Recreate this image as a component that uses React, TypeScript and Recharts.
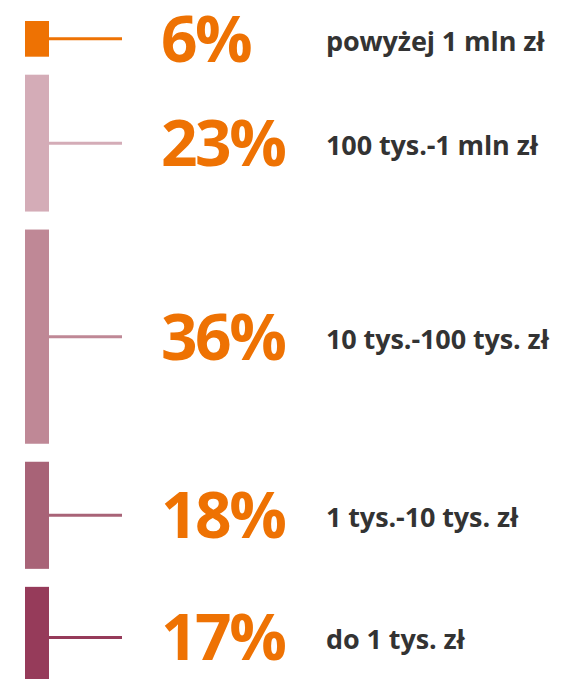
import { BarChart, Bar, XAxis, YAxis } from "recharts";

// top to bottom, as in the picture
const categories = [
  "powyżej 1 mln zł",
  "100 tys.-1 mln zł",
  "10 tys.-100 tys. zł",
  "1 tys.-10 tys. zł",
  "do 1 tys. zł",
];
const shares = [6, 23, 36, 18, 17];
const colors = ["#EE7203", "#D4ACB7", "#BF8896", "#A86377", "#963B5A"];

const GAP = 18;
const FONT = "'Open Sans', 'DejaVu Sans', sans-serif";

const row: Record<string, number | string> = { name: "udział" };
shares.forEach((v, i) => {
  row[`s${i}`] = v;
});
const data = [row];

// recharts stacks from the bottom up, so the last category goes first
const stackOrder = shares.map((_, i) => i).reverse();

function segment(i: number) {
  return (props: any) => {
    const { x, y, width, height } = props;
    const top = y + i * GAP;
    const mid = top + height / 2;
    const right = x + width;
    return (
      <g>
        <rect x={x} y={top} width={width} height={height} fill={colors[i]} />
        <line
          x1={right}
          x2={right + 73}
          y1={mid}
          y2={mid}
          stroke={colors[i]}
          strokeWidth={3}
        />
        <text
          x={right + 112}
          y={mid + 23}
          fill="#EE7203"
          fontFamily={FONT}
          fontWeight={700}
          fontSize={64}
          letterSpacing={-2.5}
        >
          {shares[i]}%
        </text>
        <text
          x={right + 277}
          y={mid + 12}
          fill="#333333"
          fontFamily={FONT}
          fontWeight={700}
          fontSize={27}
          letterSpacing={-0.1}
        >
          {categories[i]}
        </text>
      </g>
    );
  };
}

export default function App() {
  return (
    <div style={{ position: "absolute", left: 0, top: 0 }}>
      <BarChart
        width={563}
        height={679}
        data={data}
        margin={{ top: 21, right: 514, bottom: 63, left: 25 }}
        barCategoryGap={0}
      >
        <XAxis dataKey="name" hide />
        <YAxis type="number" domain={[0, 100]} hide />
        {stackOrder.map((i) => (
          <Bar
            key={i}
            dataKey={`s${i}`}
            stackId="a"
            fill={colors[i]}
            shape={segment(i)}
            isAnimationActive={false}
          />
        ))}
      </BarChart>
    </div>
  );
}
